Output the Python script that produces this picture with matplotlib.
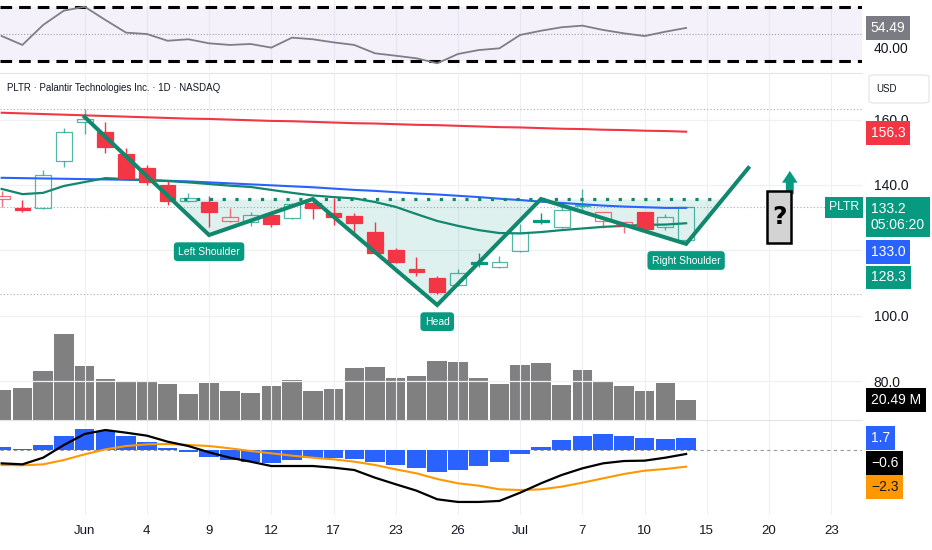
import numpy as np
import matplotlib
matplotlib.use("Agg")
import matplotlib.pyplot as plt
from matplotlib.patches import Rectangle, FancyArrow, FancyBboxPatch

plt.rcParams['font.family'] = ['Liberation Sans', 'DejaVu Sans']
plt.rcParams['text.color'] = '#131722'

RED = '#f23645'
GREEN = '#089981'
TEAL = '#11876d'
BLUE = '#2962ff'
ORANGE = '#ff9800'
GRID = '#eef0f4'
FS = 10  # price scale text

# daily candles, index 0 = last days of May
opens = [135.7, 133.0, 133.0, 147.3, 159.3, 156.2, 149.5, 145.2, 140.0, 135.1,
         134.8, 129.0, 128.7, 130.8, 129.9, 134.5, 131.4, 130.5, 125.6, 120.1,
         114.3, 111.6, 109.4, 115.9, 114.9, 119.8, 128.7, 127.2, 133.5, 129.0,
         127.5, 131.7, 127.2, 123.2]
highs = [138.2, 135.4, 144.6, 157.4, 163.2, 159.3, 151.3, 146.1, 141.2, 137.6,
         136.6, 133.0, 131.7, 131.1, 134.5, 136.0, 136.0, 131.4, 128.7, 120.7,
         118.0, 112.2, 114.3, 119.2, 118.3, 128.1, 131.4, 133.6, 138.8, 131.7,
         128.7, 131.7, 131.1, 133.2]
lows = [133.3, 131.7, 132.8, 145.5, 155.6, 149.8, 141.8, 140.0, 133.9, 134.8,
        127.2, 128.7, 127.5, 127.2, 129.6, 129.6, 127.8, 125.3, 119.0, 116.1,
        112.2, 106.7, 109.0, 114.9, 114.6, 119.5, 128.1, 127.0, 131.4, 126.8,
        125.3, 126.5, 126.2, 123.0]
closes = [136.6, 132.4, 143.1, 156.2, 160.2, 151.6, 142.1, 140.9, 135.1, 136.0,
          131.7, 130.2, 130.8, 128.1, 134.2, 133.0, 130.2, 128.4, 119.2, 116.5,
          113.4, 107.3, 113.1, 116.5, 116.5, 125.3, 129.2, 132.4, 133.7, 131.7,
          128.7, 126.5, 130.2, 133.2]
# R = red filled, r = red hollow, G = green filled, g = green hollow
styles = "rRgggRRRRgRrgRgRRRRRRRgGggGggrrRgg"

volume = [31.2, 33.6, 51.0, 89.1, 56.2, 42.6, 40.2, 40.2, 37.4, 26.7,
          38.2, 30.5, 27.8, 35.0, 41.3, 29.8, 31.9, 54.1, 55.4, 44.0,
          45.8, 61.0, 60.0, 44.0, 37.4, 57.2, 59.3, 36.7, 51.7, 39.5,
          35.0, 30.5, 38.8, 20.49]

ma_red = [162.1, 161.9, 161.7, 161.5, 161.3, 161.1, 160.9, 160.7, 160.5, 160.3,
          160.2, 160.0, 159.8, 159.6, 159.5, 159.3, 159.1, 158.9, 158.8, 158.6,
          158.4, 158.3, 158.1, 157.9, 157.7, 157.6, 157.4, 157.2, 157.1, 156.9,
          156.8, 156.6, 156.5, 156.3]
ma_blue = [142.2, 142.1, 142.0, 141.9, 141.8, 141.7, 141.6, 141.5, 141.3, 141.1,
           140.8, 140.5, 140.2, 139.9, 139.6, 139.3, 138.9, 138.5, 138.2, 137.8,
           137.4, 137.1, 136.7, 136.3, 135.8, 135.4, 134.9, 134.5, 134.1, 133.7,
           133.4, 133.2, 133.0, 133.0]
ma_green = [138.8, 137.2, 137.6, 139.7, 140.9, 142.1, 141.8, 141.5, 141.2, 140.8,
            140.3, 139.8, 139.4, 138.5, 137.6, 136.8, 136.3, 135.9, 134.8, 133.3,
            131.1, 129.0, 127.5, 126.2, 125.3, 125.2, 125.6, 126.2, 126.7, 127.2,
            127.5, 127.8, 127.9, 128.3]

rsi = [48.5, 41.9, 56.7, 67.3, 70.2, 60.4, 51.0, 50.0, 45.0, 46.1,
       43.1, 41.9, 42.6, 39.9, 47.3, 46.1, 43.8, 41.9, 35.7, 33.9,
       32.0, 28.3, 35.2, 38.1, 39.4, 49.3, 52.4, 55.0, 56.2, 53.0,
       50.5, 48.5, 51.7, 54.49]

macd_hist = [0.37, 0.14, 0.69, 1.93, 2.94, 2.67, 1.93, 1.15, 0.32, -0.32,
             -0.92, -1.38, -1.61, -1.75, -1.38, -1.15, -1.06, -1.20, -1.66, -2.07,
             -2.44, -2.99, -2.76, -2.16, -1.61, -0.60, 0.41, 1.38, 1.98, 2.21,
             1.98, 1.70, 1.56, 1.70]
macd_line = [-1.84, -1.98, -1.06, 0.69, 2.21, 2.76, 2.39, 1.98, 1.15, 0.55,
             -0.32, -1.06, -1.61, -2.21, -2.21, -2.21, -2.44, -2.76, -3.82, -4.73,
             -5.61, -6.80, -7.17, -7.17, -7.03, -5.89, -4.60, -3.45, -2.53, -1.84,
             -1.52, -1.47, -1.06, -0.55]
macd_signal = [-2.07, -2.11, -1.98, -1.38, -0.60, 0.09, 0.55, 0.78, 0.83, 0.69,
               0.55, 0.23, -0.14, -0.46, -0.78, -1.06, -1.29, -1.61, -2.07, -2.67,
               -3.22, -4.00, -4.60, -4.92, -5.43, -5.52, -5.43, -5.06, -4.51, -3.91,
               -3.31, -2.85, -2.62, -2.30]

# inverse head and shoulders drawing (bar index, price)
pattern_x = [4, 10, 15, 21, 26, 33, 36]
pattern_y = [160.8, 124.7, 135.7, 103.3, 135.7, 122.0, 145.2]
neckline = 135.7
pattern_labels = [(10, 'Left Shoulder'), (21, 'Head'), (33, 'Right Shoulder')]
question_x, question_y = 37.5, 130.2

date_pos = [4, 7, 10, 13, 16, 19, 22, 25, 28, 31, 34, 37, 40]
date_lbl = ['Jun', '4', '9', '12', '17', '23', '26', 'Jul', '7', '10', '15', '20', '23']

x = np.arange(len(opens))
xlim = (-0.08, 41.48)

fig = plt.figure(figsize=(9.32, 5.5), dpi=100)
W = 862 / 932
ax_rsi = fig.add_axes([0, 1 - 70 / 550, W, 70 / 550])
ax = fig.add_axes([0, 1 - 420 / 550, W, 347 / 550])
ax_macd = fig.add_axes([0, 1 - 515 / 550, W, 95 / 550])
ax_vol = ax.twinx()
ax_vol.set_zorder(ax.get_zorder() - 1)
ax.patch.set_visible(False)

for a in (ax_rsi, ax, ax_macd, ax_vol):
    a.set_xlim(*xlim)
    for s in a.spines.values():
        s.set_visible(False)
    a.set_xticks([])
    a.tick_params(axis='y', length=0, labelsize=FS, labelcolor='#131722', pad=8.4)
for a in (ax_rsi, ax, ax_macd):
    for p in date_pos:
        a.axvline(p, color=GRID, lw=0.8, zorder=0)

ax.spines['top'].set_visible(True)
ax.spines['top'].set_color('#e0e3eb')
ax_macd.spines['top'].set_visible(True)
ax_macd.spines['top'].set_color('#e0e3eb')

# ---- RSI pane ----
ax_rsi.set_ylim(23.33, 75.19)
ax_rsi.axhspan(30, 70, color='#7e57c2', alpha=0.08, lw=0)
ax_rsi.axhline(70, color='black', lw=2.2, dashes=(3.8, 2.3))
ax_rsi.axhline(30, color='black', lw=2.2, dashes=(3.8, 2.3))
ax_rsi.axhline(50, color='#a0a3ab', lw=0.8, ls=':')
ax_rsi.plot(x, rsi, color='#7e7e86', lw=1.3)
ax_rsi.yaxis.tick_right()
ax_rsi.set_yticks([40], ['40.00'])


def tag(a, y, text, bg, fg='white', dy=0, dx=6.4, ha='left', size=FS):
    a.annotate(text, xy=(1, y), xycoords=('axes fraction', 'data'),
               xytext=(dx, dy), textcoords='offset points', ha=ha, va='center',
               fontsize=size, color=fg, annotation_clip=False, zorder=10,
               bbox=dict(boxstyle='square,pad=0.35', fc=bg, ec='none'))


tag(ax_rsi, rsi[-1], '%.2f' % rsi[-1], '#7b7b83')

# ---- price pane ----
ax.set_ylim(68.13, 174.25)
for lvl in (80, 100, 120, 140, 160):
    ax.axhline(lvl, color=GRID, lw=0.9, zorder=0)
for lvl in (max(highs), min(lows), closes[-1]):
    ax.axhline(lvl, color='#a8abb3', lw=0.8, ls=(0, (1, 2)), zorder=1)

ax.yaxis.tick_right()
ax.set_yticks([80, 100, 140, 160], ['80.0', '100.0', '140.0', '160.0'])

ax_vol.set_ylim(0, 361)
ax_vol.set_yticks([])
ax_vol.bar(x, volume, width=0.94, color='#808080', lw=0)

ax.plot(x, ma_red, color=RED, lw=1.5, zorder=3)
ax.plot(x, ma_blue, color=BLUE, lw=1.5, zorder=3)
ax.plot(x, ma_green, color=TEAL, lw=1.6, zorder=3)

bw = 0.76
for i in range(len(opens)):
    o, h, l, c, s = opens[i], highs[i], lows[i], closes[i], styles[i]
    col = RED if s in 'Rr' else GREEN
    filled = s in 'RG'
    lo, hi = min(o, c), max(o, c)
    alpha = 1.0 if filled else 0.7
    ax.vlines(i, l, lo, color=col, lw=1, alpha=alpha, zorder=4)
    ax.vlines(i, hi, h, color=col, lw=1, alpha=alpha, zorder=4)
    ax.add_patch(Rectangle((i - bw / 2, lo), bw, max(hi - lo, 0.3),
                           facecolor=col if filled else 'none', edgecolor=col,
                           lw=0.9, alpha=alpha, zorder=4))

# pattern shading and outline
xs = np.linspace(pattern_x[0], pattern_x[-1], 3000)
ys = np.interp(xs, pattern_x, pattern_y)
below = ys <= neckline
ax.fill_between(xs, ys, neckline, where=below, color=GREEN, alpha=0.13, lw=0, zorder=2)
ax.plot([xs[below][0], xs[below][-1]], [neckline, neckline], color=TEAL, lw=2.3,
        dashes=(1, 3), zorder=5)
ax.plot(pattern_x, pattern_y, color=TEAL, lw=2.9, zorder=6, solid_joinstyle='miter')

for px, txt in pattern_labels:
    py = np.interp(px, pattern_x, pattern_y)
    ax.annotate(txt, xy=(px, py), xytext=(0, -12), textcoords='offset points',
                ha='center', va='center', fontsize=7.5, color='white', zorder=8,
                bbox=dict(boxstyle='round,pad=0.42,rounding_size=0.35', fc=GREEN, ec='none'))

ax.add_patch(FancyArrow(question_x + 0.5, question_y + 7, 0, 7.1, width=0.38,
                        head_width=0.75, head_length=3.6, length_includes_head=True,
                        color=GREEN, lw=0, zorder=7))
ax.add_patch(Rectangle((question_x - 0.58, question_y - 7.95), 1.16, 15.9,
                       facecolor='#d3d3d3', edgecolor='black', lw=1.8, zorder=8))
ax.text(question_x, question_y, '?', ha='center', va='center', fontsize=18,
        fontweight='bold', color='black', zorder=9, family='DejaVu Sans')

ax.text(0.008, 0.957, 'PLTR · Palantir Technologies Inc. · 1D · NASDAQ',
        transform=ax.transAxes, fontsize=7.0, va='center')
ax.add_patch(FancyBboxPatch((1.0081, 0.9135), 0.0696, 0.0807, transform=ax.transAxes,
                            boxstyle='round,pad=0,rounding_size=0.006', fc='white',
                            ec='#e0e3eb', lw=0.8, clip_on=False))
ax.text(1.0162, 0.954, 'USD', transform=ax.transAxes, fontsize=7, va='center')

tag(ax, ma_red[-1], '%.1f' % ma_red[-1], RED, dy=-1)
tag(ax, closes[-1], '%.1f\n05:06:20' % closes[-1], GREEN, dy=-7)
tag(ax, closes[-1], 'PLTR', GREEN, dx=-2.2, ha='right', size=8.8)
tag(ax, ma_blue[-1], '%.1f' % ma_blue[-1], BLUE, dy=-32)
tag(ax, ma_green[-1], '%.1f' % ma_green[-1], GREEN, dy=-39)
tag(ax_vol, volume[-1], '%.2f M' % volume[-1], 'black')

# ---- MACD pane ----
ax_macd.set_ylim(-8.97, 4.14)
ax_macd.axhline(0, color='#9598a1', lw=0.8, dashes=(3, 3), zorder=1)
ax_macd.bar(x, macd_hist, width=0.94, color=BLUE, lw=0, zorder=2)
ax_macd.plot(x, macd_signal, color=ORANGE, lw=1.5, zorder=3)
ax_macd.plot(x, macd_line, color='black', lw=1.6, zorder=4)
ax_macd.set_yticks([])
tag(ax_macd, macd_hist[-1], '%.1f' % macd_hist[-1], BLUE)
tag(ax_macd, macd_line[-1], '−%.1f' % abs(macd_line[-1]), 'black', dy=-6.5)
tag(ax_macd, macd_signal[-1], '−%.1f' % abs(macd_signal[-1]), ORANGE, fg='#131722', dy=-14.5)

ax_macd.set_xticks(date_pos, date_lbl)
ax_macd.tick_params(axis='x', length=0, labelsize=9.5, labelcolor='#131722', pad=7)

fig.savefig('out.png', dpi=100)
